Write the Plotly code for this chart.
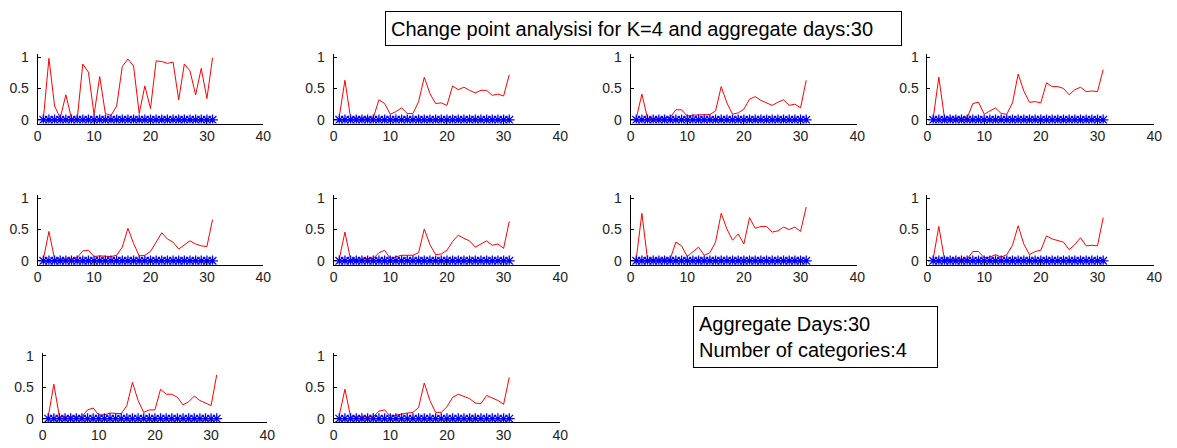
import plotly.graph_objects as go

# Day index of each aggregated point
days = list(range(1, 32))

# Normalised change-point statistic for each category pair (panels 1-10)
panel_1 = [0.0, 0.98, 0.22, 0.03, 0.4, 0.02, 0.0, 0.89, 0.76, 0.08, 0.69, 0.1, 0.07, 0.22, 0.85, 0.97,
           0.86, 0.1, 0.54, 0.18, 0.94, 0.93, 0.9, 0.92, 0.32, 0.89, 0.78, 0.4, 0.82, 0.34, 0.99]
panel_2 = [0.05, 0.63, 0.03, 0.03, 0.03, 0.03, 0.03, 0.32, 0.26, 0.09, 0.13, 0.19, 0.1, 0.1, 0.29, 0.68,
           0.42, 0.26, 0.27, 0.23, 0.54, 0.48, 0.52, 0.47, 0.43, 0.47, 0.47, 0.39, 0.41, 0.38, 0.72]
panel_3 = [0.02, 0.41, 0.02, 0.02, 0.03, 0.03, 0.04, 0.16, 0.16, 0.06, 0.075, 0.075, 0.075, 0.085, 0.14, 0.53,
           0.27, 0.09, 0.11, 0.17, 0.33, 0.37, 0.31, 0.27, 0.23, 0.28, 0.32, 0.23, 0.25, 0.19, 0.63]
panel_4 = [0.02, 0.68, 0.03, 0.03, 0.03, 0.03, 0.03, 0.26, 0.28, 0.09, 0.14, 0.19, 0.1, 0.09, 0.27, 0.73,
           0.46, 0.28, 0.29, 0.27, 0.59, 0.53, 0.53, 0.5, 0.4, 0.48, 0.52, 0.45, 0.46, 0.45, 0.8]
panel_5 = [0.02, 0.47, 0.03, 0.03, 0.03, 0.03, 0.05, 0.16, 0.17, 0.07, 0.08, 0.08, 0.07, 0.09, 0.22, 0.52,
           0.28, 0.08, 0.09, 0.15, 0.31, 0.45, 0.35, 0.3, 0.19, 0.25, 0.32, 0.27, 0.24, 0.23, 0.66]
panel_6 = [0.03, 0.46, 0.02, 0.02, 0.03, 0.04, 0.04, 0.13, 0.17, 0.04, 0.06, 0.09, 0.09, 0.09, 0.13, 0.51,
           0.26, 0.1, 0.11, 0.17, 0.31, 0.41, 0.36, 0.32, 0.22, 0.27, 0.32, 0.25, 0.27, 0.2, 0.63]
panel_7 = [0.03, 0.76, 0.02, 0.03, 0.03, 0.03, 0.03, 0.3, 0.24, 0.07, 0.14, 0.22, 0.09, 0.13, 0.3, 0.76,
           0.51, 0.33, 0.43, 0.27, 0.69, 0.52, 0.55, 0.55, 0.46, 0.48, 0.54, 0.5, 0.54, 0.47, 0.86]
panel_8 = [0.03, 0.55, 0.02, 0.03, 0.03, 0.03, 0.03, 0.15, 0.15, 0.05, 0.06, 0.1, 0.06, 0.1, 0.25, 0.56,
           0.27, 0.1, 0.15, 0.17, 0.4, 0.35, 0.33, 0.3, 0.18, 0.26, 0.37, 0.24, 0.25, 0.24, 0.69]
panel_9 = [0.03, 0.55, 0.03, 0.03, 0.03, 0.03, 0.03, 0.14, 0.17, 0.06, 0.06, 0.09, 0.08, 0.08, 0.21, 0.58,
           0.29, 0.1, 0.14, 0.14, 0.47, 0.39, 0.39, 0.34, 0.22, 0.27, 0.36, 0.29, 0.25, 0.21, 0.7]
panel_10 = [0.05, 0.47, 0.03, 0.03, 0.03, 0.03, 0.03, 0.12, 0.14, 0.04, 0.06, 0.08, 0.09, 0.1, 0.18, 0.57,
            0.29, 0.1, 0.1, 0.19, 0.34, 0.39, 0.36, 0.32, 0.25, 0.24, 0.37, 0.33, 0.29, 0.23, 0.66]

# Detected change points (none flagged: all zero)
change_flags = [0] * 31

panels = [panel_1, panel_2, panel_3, panel_4, panel_5,
          panel_6, panel_7, panel_8, panel_9, panel_10]

title_text = "Change point analysisi for K=4 and aggregate days:30"
info_text = "Aggregate Days:30<br>Number of categories:4"

x_ticks = [0, 10, 20, 30, 40]
y_ticks = [0, 0.5, 1]

W, H = 1177, 448

# Pixel boxes of each axes (left, right, top, bottom)
boxes = [
    (34, 262, 50, 121), (333, 562, 50, 121), (633, 862, 50, 121), (933, 1162, 50, 121),
    (34, 262, 194, 265), (333, 562, 194, 265), (633, 862, 194, 265), (933, 1162, 194, 265),
    (39, 266, 355, 426), (333, 562, 355, 426),
]

font_family = "Liberation Sans, Arial, sans-serif"
fig = go.Figure()
layout = dict(
    width=W, height=H,
    margin=dict(l=0, r=0, t=0, b=0),
    paper_bgcolor="white", plot_bgcolor="white",
    showlegend=False,
    font=dict(family=font_family, size=14, color="black"),
)

for i, (vals, (l, r, t, b)) in enumerate(zip(panels, boxes)):
    n = "" if i == 0 else str(i + 1)
    xa, ya = "x" + n, "y" + n
    fig.add_trace(go.Scatter(
        x=days, y=vals, mode="lines",
        line=dict(color="#ff0000", width=1),
        xaxis=xa, yaxis=ya, hoverinfo="skip"))
    fig.add_trace(go.Scatter(
        x=days, y=change_flags, mode="lines+markers",
        line=dict(color="#0000ff", width=1),
        marker=dict(symbol="asterisk-open", size=9, color="#0000ff",
                    line=dict(color="#0000ff", width=1.3)),
        xaxis=xa, yaxis=ya, hoverinfo="skip"))
    layout["xaxis" + n] = dict(
        domain=[l / W, r / W], range=[0, 40], anchor=ya,
        tickvals=x_ticks, ticktext=[str(v) for v in x_ticks],
        ticks="inside", ticklen=3, tickcolor="black",
        ticklabelstandoff=0,
        showline=True, linecolor="black", linewidth=1, mirror=False,
        showgrid=False, zeroline=False, fixedrange=True,
        tickfont=dict(size=14, color="#222222"))
    layout["yaxis" + n] = dict(
        domain=[1 - b / H, 1 - t / H], range=[-0.06, 1.05], anchor=xa,
        tickvals=y_ticks, ticktext=["0", "0.5", "1"],
        ticks="inside", ticklen=3, tickcolor="black",
        ticklabelstandoff=5,
        showline=True, linecolor="black", linewidth=1, mirror=False,
        showgrid=False, zeroline=False, fixedrange=True,
        tickfont=dict(size=14, color="#222222"))

layout["annotations"] = [
    dict(text=title_text, xref="paper", yref="paper",
         x=646.5 / W, y=1 - 23.5 / H, xanchor="center", yanchor="middle",
         showarrow=False, align="left", width=505, height=23,
         bordercolor="black", borderwidth=1, borderpad=5, bgcolor="white",
         font=dict(family=font_family, size=20, color="black")),
    dict(text=info_text, xref="paper", yref="paper",
         x=820 / W, y=1 - 339 / H, xanchor="center", yanchor="middle",
         showarrow=False, align="left", width=233, height=50,
         bordercolor="black", borderwidth=1, borderpad=5, bgcolor="white",
         font=dict(family=font_family, size=20, color="black")),
]

fig.update_layout(**layout)
fig.write_html("out.html", config={"displayModeBar": False})
